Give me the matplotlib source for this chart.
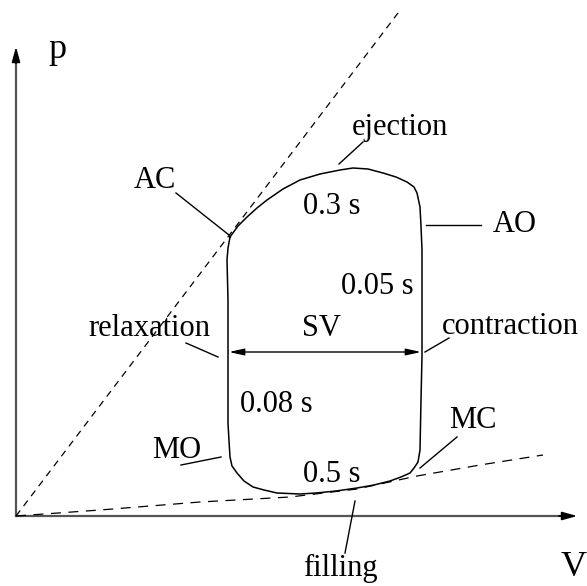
import matplotlib
matplotlib.use("Agg")
import matplotlib.pyplot as plt

# coordinates in (V, p) with origin at the axes crossing
# p-V loop of the left ventricle
loop_V = [214, 222, 231, 241, 251, 267, 284, 304, 324, 337, 352, 367, 380, 391, 398,
          401, 404, 405, 406, 406, 406, 405, 404, 402, 398, 394, 385, 374, 358, 341,
          320, 300, 284, 261, 248, 237, 228, 221, 216, 214, 213, 212, 212, 211, 212, 214]
loop_p = [279, 290, 299, 308, 316, 327, 336, 342, 346, 348, 347, 343, 339, 334, 329,
          323, 309, 290, 266, 216, 160, 116, 66, 54, 48, 43, 39, 35, 31, 28,
          25, 23, 22, 23, 26, 29, 35, 43, 50, 59, 75, 93, 216, 256, 268, 279]

# end-systolic line (straight) and end-diastolic curve (dashed)
espvr_V = [0, 382]
espvr_p = [0, 503]
edpvr_V = [0, 84, 184, 274, 341, 401, 464, 527]
edpvr_p = [0, 6, 14, 19, 27, 40, 51, 61]

# stroke volume arrow
sv_V = [213, 405]
sv_p = 164

# labels: text, position, leader line start/end
labels = ["AC", "ejection", "AO", "relaxation", "contraction", "MO", "MC", "filling"]
label_xy = [(139, 336), (384, 388), (499, 291), (133, 188), (494, 190), (161, 65), (457, 95), (324, -52)]
leader_a = [(160, 323), (347, 374), (410, 291), (170, 173), (409, 164), (165, 51), (404, 48), (339, 15)]
leader_b = [(213, 281), (323, 352), (465, 291), (202, 159), (433, 178), (205, 59), (441, 79), (329, -37)]

# time annotations inside the loop
times = ["0.3 s", "0.05 s", "SV", "0.08 s", "0.5 s"]
times_xy = [(316, 310), (361, 229), (306, 188), (260, 112), (316, 41)]

fig = plt.figure(figsize=(5.87, 5.86), dpi=100)
ax = fig.add_axes([0, 0, 1, 1])
ax.set_xlim(-16, 571)
ax.set_ylim(-70, 516)
ax.axis("off")

serif = "Liberation Serif"

# axes with arrows
ax.plot([0, 0], [0, 458], color="#555555", lw=1.6)
ax.plot([0, 548], [0, 0], color="#555555", lw=1.6)
ax.annotate("", xy=(0, 472), xytext=(0, 450),
            arrowprops=dict(arrowstyle="-|>,head_length=0.9,head_width=0.25", color="black", lw=1.2))
ax.annotate("", xy=(564, 0), xytext=(540, 0),
            arrowprops=dict(arrowstyle="-|>,head_length=0.9,head_width=0.25", color="black", lw=1.2))
ax.text(41, 466, "p", fontsize=26, family=serif, ha="center", va="center")
ax.text(558, -52, "V", fontsize=26, family=serif, ha="center", va="center")

# dashed reference lines
ax.plot(espvr_V, espvr_p, color="black", lw=0.9, ls=(0, (5.5, 4.5)))
ax.plot(edpvr_V, edpvr_p, color="black", lw=0.9, ls=(0, (8, 6)))

# loop
ax.plot(loop_V, loop_p, color="black", lw=1.1, solid_joinstyle="round")

# SV double arrow
ax.annotate("", xy=(sv_V[0], sv_p), xytext=(sv_V[1], sv_p),
            arrowprops=dict(arrowstyle="<|-|>,head_length=0.9,head_width=0.2", color="black", lw=1.0,
                            shrinkA=0, shrinkB=0))

for txt, (x, y), a, b in zip(labels, label_xy, leader_a, leader_b):
    ax.text(x, y, txt, fontsize=22, family=serif, ha="center", va="center")
    ax.plot([a[0], b[0]], [a[1], b[1]], color="black", lw=1.0)

for txt, (x, y) in zip(times, times_xy):
    ax.text(x, y, txt, fontsize=22, family=serif, ha="center", va="center")

fig.savefig("out.png", dpi=100)
